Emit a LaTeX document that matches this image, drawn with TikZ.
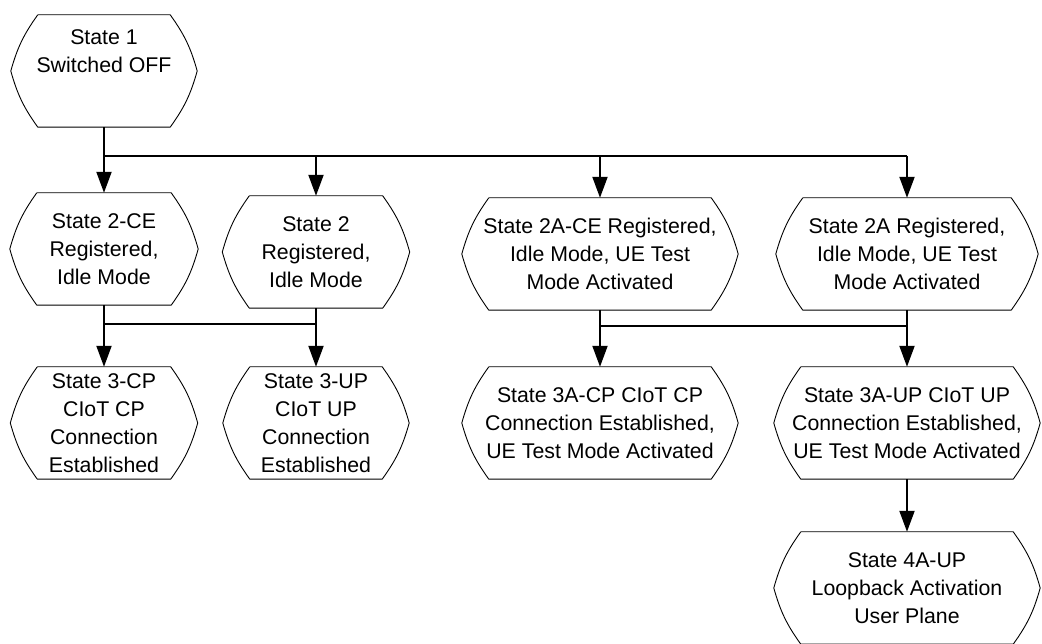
\documentclass[tikz,border=0pt]{standalone}
\usepackage{fontspec}
\setmainfont{Liberation Sans}
\usepackage{tikz}
\usetikzlibrary{calc}
\usetikzlibrary{positioning}
\usetikzlibrary{arrows.meta}

\begin{document}
\begin{tikzpicture}[x=1pt,y=1pt,>={Triangle[length=21pt,width=15pt]},
  state/.style={minimum width=#1, minimum height=112pt, inner sep=0pt, align=center,
    font=\fontsize{21.3}{28}\selectfont,
    append after command={\pgfextra{\pgfinterruptpath
      \draw[line width=0.9pt,line join=round] ([xshift=27pt]\tikzlastnode.north west) -- ([xshift=-27pt]\tikzlastnode.north east)
        to[bend left=10] (\tikzlastnode.east) to[bend left=10] ([xshift=-27pt]\tikzlastnode.south east)
        -- ([xshift=27pt]\tikzlastnode.south west) to[bend left=10] (\tikzlastnode.west)
        to[bend left=10] ([xshift=27pt]\tikzlastnode.north west);
      \endpgfinterruptpath}}},
  wire/.style={line width=2pt}]

\useasboundingbox (0,0) rectangle (1042,644);

% states
\node[state=186] (s1) at (104,573) {State 1\\Switched OFF\\~\\[-16pt]~};

\node[state=188] (s2ce) at (104,395) {State 2-CE\\Registered,\\Idle Mode};
\node[state=187] (s2) at (316,392) {State 2\\Registered,\\Idle Mode};
\node[state=276] (s2ace) at (600,390) {State 2A-CE Registered,\\Idle Mode, UE Test\\Mode Activated};
\node[state=262] (s2a) at (907,390) {State 2A Registered,\\Idle Mode, UE Test\\Mode Activated};

\node[state=187] (s3cp) at (104,221) {State 3-CP\\CIoT CP\\Connection\\Established};
\node[state=186] (s3up) at (316,221) {State 3-UP\\CIoT UP\\Connection\\Established};
\node[state=276] (s3acp) at (600,221) {State 3A-CP CIoT CP\\Connection Established,\\UE Test Mode Activated};
\node[state=266] (s3aup) at (907,221) {State 3A-UP CIoT UP\\Connection Established,\\UE Test Mode Activated};

\node[state=266] (s4aup) at (907,56) {State 4A-UP\\Loopback Activation\\User Plane};

% connections
\coordinate (bus1) at (104,488);
\draw[wire,->] (s1) -- (s2ce);
\draw[wire] (bus1) -- (s2a.north |- bus1);
\draw[wire,->] (s2.north |- bus1) -- (s2.north);
\draw[wire,->] (s2ace.north |- bus1) -- (s2ace.north);
\draw[wire,->] (s2a.north |- bus1) -- (s2a.north);

\coordinate (bus2) at (104,320);
\draw[wire,->] (s2ce) -- (s3cp);
\draw[wire,->] (s2) -- (s3up);
\draw[wire] (bus2) -- (s2.south |- bus2);

\coordinate (bus3) at (600,318);
\draw[wire,->] (s2ace) -- (s3acp);
\draw[wire,->] (s2a) -- (s3aup);
\draw[wire] (bus3) -- (s2a.south |- bus3);

\draw[wire,->] (s3aup) -- (s4aup);
\end{tikzpicture}
\end{document}
